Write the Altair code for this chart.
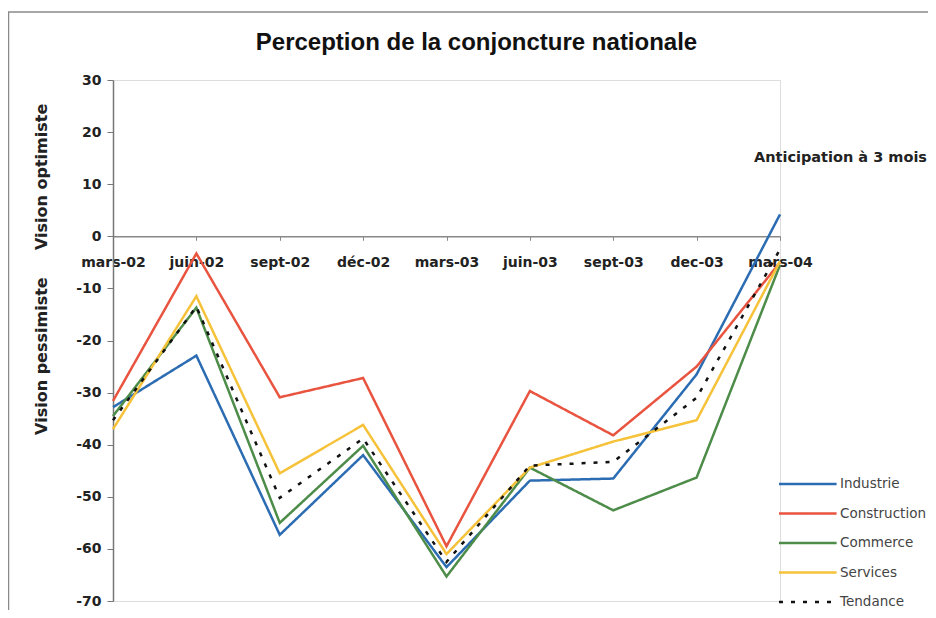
import altair as alt
import pandas as pd

categories = ["mars-02", "juin-02", "sept-02", "déc-02", "mars-03",
              "juin-03", "sept-03", "dec-03", "mars-04"]
series_names = ["Industrie", "Construction", "Commerce", "Services", "Tendance"]

industrie = [-32.8, -22.9, -57.3, -42.0, -63.5, -46.9, -46.5, -26.5, 4.2]
construction = [-31.6, -3.3, -30.9, -27.2, -59.5, -29.7, -38.2, -25.0, -5.0]
commerce = [-34.5, -13.7, -55.0, -40.2, -65.3, -44.4, -52.6, -46.3, -5.5]
services = [-37.0, -11.5, -45.5, -36.2, -61.0, -44.4, -39.4, -35.3, -4.8]
tendance = [-35.3, -13.5, -50.2, -38.8, -62.5, -44.0, -43.3, -31.0, -2.5]

colors = ["#2b6cb2", "#e8543f", "#4d8c49", "#f5c23a", "#111111"]
dashes = [[1, 0], [1, 0], [1, 0], [1, 0], [4, 8]]
widths = [2.5, 2.5, 2.5, 2.5, 3.8]
y_ticks = [-70, -60, -50, -40, -30, -20, -10, 0, 10, 20, 30]

title_text = "Perception de la conjoncture nationale"
note_text = "Anticipation à 3 mois"
y_title_top = "Vision optimiste"
y_title_bottom = "Vision pessimiste"

values = [industrie, construction, commerce, services, tendance]
rows = []
for name, vals in zip(series_names, values):
    for cat, v in zip(categories, vals):
        rows.append({"periode": cat, "serie": name, "valeur": v})
df = pd.DataFrame(rows)

W, H = 667, 521
Y_MIN, Y_MAX = -70, 30
zero_from_bottom = H * (0 - Y_MIN) / (Y_MAX - Y_MIN)

legend = alt.Legend(
    title=None, orient="none", legendX=687.3, legendY=396.5, padding=0,
    symbolType="M-4.8,0H4.8", symbolSize=144, symbolStrokeWidth=2.5,
    labelOffset=24.7, rowPadding=15.5, labelFont="DejaVu Sans",
    labelFontSize=13.5, labelColor="#444444", labelLimit=200,
)

lines = alt.Chart(df).mark_line().encode(
    x=alt.X("periode:N", sort=categories,
            scale=alt.Scale(type="point", padding=0),
            axis=alt.Axis(title=None, orient="bottom", offset=-zero_from_bottom,
                          labelAngle=0, labelOverlap=False, labelFlush=False,
                          labelFont="DejaVu Sans", labelFontWeight="bold",
                          labelFontSize=14, labelColor="#222222", labelPadding=15,
                          tickSize=4, tickColor="#888888", domainColor="#888888",
                          domainWidth=1.5, grid=False)),
    y=alt.Y("valeur:Q", scale=alt.Scale(domain=[Y_MIN, Y_MAX], nice=False, zero=False),
            axis=alt.Axis(title=None, values=y_ticks, labelExpr="'' + datum.value",
                          labelFont="DejaVu Sans",
                          labelFontWeight="bold", labelFontSize=14, labelColor="#222222",
                          labelPadding=6, tickSize=6, tickColor="#777777",
                          domainColor="#777777", domainWidth=1.5, grid=False)),
    color=alt.Color("serie:N", sort=series_names,
                    scale=alt.Scale(domain=series_names, range=colors), legend=legend),
    strokeDash=alt.StrokeDash("serie:N", sort=series_names,
                              scale=alt.Scale(domain=series_names, range=dashes),
                              legend=legend),
    strokeWidth=alt.StrokeWidth("serie:N", sort=series_names,
                                scale=alt.Scale(domain=series_names, range=widths),
                                legend=None),
)

note = alt.Chart(pd.DataFrame({"t": [note_text]})).mark_text(
    align="right", baseline="middle", font="DejaVu Sans", fontWeight="bold",
    fontSize=14.5, color="#222222"
).encode(x=alt.value(814), y=alt.datum(15), text="t:N")

yt1 = alt.Chart(pd.DataFrame({"t": [y_title_top]})).mark_text(
    align="center", baseline="middle", angle=270, font="DejaVu Sans",
    fontWeight="bold", fontSize=16, color="#222222"
).encode(x=alt.value(-71.5), y=alt.datum(11.4), text="t:N")

yt2 = alt.Chart(pd.DataFrame({"t": [y_title_bottom]})).mark_text(
    align="center", baseline="middle", angle=270, font="DejaVu Sans",
    fontWeight="bold", fontSize=16, color="#222222"
).encode(x=alt.value(-71.5), y=alt.datum(-23), text="t:N")

frame = alt.Chart(pd.DataFrame({"a": [0]})).mark_rect(
    fillOpacity=0, stroke="#8a8a8a", strokeWidth=1.5
).encode(x=alt.value(-104.5), x2=alt.value(1200), y=alt.value(-68), y2=alt.value(900))

chart = alt.layer(frame, lines, note, yt1, yt2).properties(
    width=W, height=H,
    title=alt.TitleParams(title_text, font="Liberation Sans", fontSize=24,
                          fontWeight="bold", color="#111111", anchor="middle",
                          dx=30, offset=-44),
    autosize=alt.AutoSizeParams(type="none"),
    padding={"left": 105, "top": 72, "right": 148, "bottom": 9},
).configure_view(stroke=None).configure(background="white")

chart.save("out.html", embed_options={"renderer": "svg", "actions": False})
